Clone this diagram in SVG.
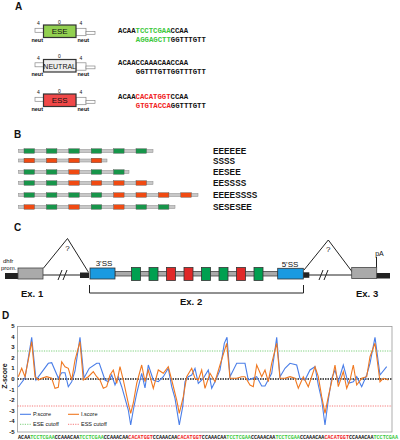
<svg xmlns="http://www.w3.org/2000/svg" width="400" height="440" viewBox="0 0 400 440">
<style>
text{font-family:"Liberation Sans",Arial,sans-serif;fill:#111}
.lbl{font-size:10px;font-weight:bold}
.seq{font-family:"Liberation Mono","Courier New",monospace;font-weight:bold;font-size:7.3px}
.g{fill:#3cc83c}.r{fill:#f02020}
.sm{font-size:5px}
.neut{font-size:5.5px;font-weight:bold}
.stub{fill:#fff;stroke:#888;stroke-width:0.7}
.bb{fill:#c8c8c8;stroke:#888;stroke-width:0.5}
.bg{fill:#17954a;stroke:#555;stroke-width:0.4}
.br{fill:#f04a12;stroke:#555;stroke-width:0.4}
.dot{fill:#555}
.rowl{font-size:8.3px;font-weight:bold}
.cg{fill:#00a050;stroke:#333;stroke-width:0.8}
.cr{fill:#e02828;stroke:#333;stroke-width:0.8}
.ex{fill:#aaa;stroke:#444;stroke-width:0.8}
.blue{fill:#1a9ae0;stroke:#333;stroke-width:0.8}
.ln{stroke:#222;stroke-width:1;fill:none}
.exl{font-size:9.5px;font-weight:bold}
.ss{font-size:8px}
.tick{font-size:6px;font-weight:bold;text-anchor:end}
.leg{font-size:5.5px}
.ds{font-family:"Liberation Mono","Courier New",monospace;font-weight:bold;font-size:5.1px}
</style>

<!-- Panel A -->
<text class="lbl" x="15" y="9.5">A</text>
<g id="a-ese">
<rect class="stub" x="35" y="28.3" width="8.5" height="4"/>
<rect class="stub" x="76" y="28.3" width="10" height="7.4"/>
<rect class="stub" x="86" y="31.5" width="9" height="2.8"/>
<rect x="43.5" y="25" width="32.5" height="12.5" fill="#92d050" stroke="#333" stroke-width="1.2"/>
<text x="59.7" y="34.3" font-size="8" text-anchor="middle">ESE</text>
<text class="sm" x="38.5" y="25" text-anchor="middle">4</text>
<text class="sm" x="59.5" y="23.5" text-anchor="middle">0</text>
<text class="sm" x="81" y="25" text-anchor="middle">4</text>
<text class="neut" x="43" y="41.5" text-anchor="end">neut</text>
<text class="neut" x="77.5" y="41.5">neut</text>
</g>
<g id="a-neutral">
<rect class="stub" x="35" y="62.8" width="8.5" height="4"/>
<rect class="stub" x="76" y="62.8" width="10" height="7.4"/>
<rect class="stub" x="86" y="66" width="9" height="2.8"/>
<rect x="43.5" y="59.5" width="32.5" height="12.5" fill="#eeeeee" stroke="#333" stroke-width="1.2"/>
<text x="59.7" y="68.5" font-size="7" text-anchor="middle" fill="#444">NEUTRAL</text>
<text class="sm" x="38.5" y="59.5" text-anchor="middle">4</text>
<text class="sm" x="59.5" y="58" text-anchor="middle">0</text>
<text class="sm" x="81" y="59.5" text-anchor="middle">4</text>
<text class="neut" x="43" y="76" text-anchor="end">neut</text>
<text class="neut" x="77.5" y="76">neut</text>
</g>
<g id="a-ess">
<rect class="stub" x="35" y="97.3" width="8.5" height="4"/>
<rect class="stub" x="76" y="97.3" width="10" height="7.4"/>
<rect class="stub" x="86" y="100.5" width="9" height="2.8"/>
<rect x="43.5" y="94" width="32.5" height="12.5" fill="#f04848" stroke="#333" stroke-width="1.2"/>
<text x="59.7" y="103.3" font-size="8" text-anchor="middle">ESS</text>
<text class="sm" x="38.5" y="94" text-anchor="middle">4</text>
<text class="sm" x="59.5" y="92.5" text-anchor="middle">0</text>
<text class="sm" x="81" y="94" text-anchor="middle">4</text>
<text class="neut" x="43" y="110.5" text-anchor="end">neut</text>
<text class="neut" x="77.5" y="110.5">neut</text>
</g>
<g id="a-seqs">
<text class="seq" x="118" y="32.5">ACAA<tspan class="g">TCCTCGAA</tspan>CCAA</text>
<text class="seq" x="135.8" y="41.5"><tspan class="g">AGGAGCTT</tspan>GGTTTGTT</text>
<text class="seq" x="118" y="65.2">ACAACCAAACAACCAA</text>
<text class="seq" x="135.8" y="73.5">GGTTTGTTGGTTTGTT</text>
<text class="seq" x="118" y="99.2">ACAA<tspan class="r">CACATGGT</tspan>CCAA</text>
<text class="seq" x="135.8" y="107.5"><tspan class="r">GTGTACCA</tspan>GGTTTGTT</text>
</g>

<!-- Panel B -->
<text class="lbl" x="14" y="138">B</text>
<g id="b-row1">
<rect class="bb" x="18.5" y="149.5" width="134.5" height="3"/>
<rect class="bg" x="24" y="148.7" width="10.5" height="4.6"/><rect class="bg" x="46.4" y="148.7" width="10.5" height="4.6"/><rect class="bg" x="68.8" y="148.7" width="10.5" height="4.6"/><rect class="bg" x="91.2" y="148.7" width="10.5" height="4.6"/><rect class="bg" x="113.6" y="148.7" width="10.5" height="4.6"/><rect class="bg" x="136" y="148.7" width="10.5" height="4.6"/>
<text class="rowl" x="213" y="154">EEEEEE</text>
</g>
<g id="b-row2">
<rect class="bb" x="18.5" y="159" width="88.5" height="3"/>
<rect class="br" x="24" y="158.2" width="10.5" height="4.6"/><rect class="br" x="46.4" y="158.2" width="10.5" height="4.6"/><rect class="br" x="68.8" y="158.2" width="10.5" height="4.6"/><rect class="br" x="91.2" y="158.2" width="10.5" height="4.6"/>
<text class="rowl" x="213" y="163.5">SSSS</text>
</g>
<g id="b-row3">
<rect class="bb" x="18.5" y="170.5" width="110.5" height="3"/>
<rect class="bg" x="24" y="169.7" width="10.5" height="4.6"/><rect class="bg" x="46.4" y="169.7" width="10.5" height="4.6"/><rect class="br" x="68.8" y="169.7" width="10.5" height="4.6"/><rect class="bg" x="91.2" y="169.7" width="10.5" height="4.6"/><rect class="bg" x="113.6" y="169.7" width="10.5" height="4.6"/>
<text class="rowl" x="213" y="175">EESEE</text>
</g>
<g id="b-row4">
<rect class="bb" x="18.5" y="181.5" width="134.5" height="3"/>
<rect class="bg" x="24" y="180.7" width="10.5" height="4.6"/><rect class="bg" x="46.4" y="180.7" width="10.5" height="4.6"/><rect class="br" x="68.8" y="180.7" width="10.5" height="4.6"/><rect class="br" x="91.2" y="180.7" width="10.5" height="4.6"/><rect class="br" x="113.6" y="180.7" width="10.5" height="4.6"/><rect class="br" x="136" y="180.7" width="10.5" height="4.6"/>
<text class="rowl" x="213" y="186">EESSSS</text>
</g>
<g id="b-row5">
<rect class="bb" x="18.5" y="193.5" width="179.5" height="3"/>
<rect class="bg" x="24" y="192.7" width="10.5" height="4.6"/><rect class="bg" x="46.4" y="192.7" width="10.5" height="4.6"/><rect class="bg" x="68.8" y="192.7" width="10.5" height="4.6"/><rect class="bg" x="91.2" y="192.7" width="10.5" height="4.6"/><rect class="br" x="113.6" y="192.7" width="10.5" height="4.6"/><rect class="br" x="136" y="192.7" width="10.5" height="4.6"/><rect class="br" x="158.4" y="192.7" width="10.5" height="4.6"/><rect class="br" x="180.8" y="192.7" width="10.5" height="4.6"/>
<text class="rowl" x="213" y="198">EEEESSSS</text>
</g>
<g id="b-row6">
<rect class="bb" x="18.5" y="205.5" width="156.5" height="3"/>
<rect class="br" x="24" y="204.7" width="10.5" height="4.6"/><rect class="bg" x="46.4" y="204.7" width="10.5" height="4.6"/><rect class="br" x="68.8" y="204.7" width="10.5" height="4.6"/><rect class="bg" x="91.2" y="204.7" width="10.5" height="4.6"/><rect class="br" x="113.6" y="204.7" width="10.5" height="4.6"/><rect class="bg" x="136" y="204.7" width="10.5" height="4.6"/><rect class="bg" x="158.4" y="204.7" width="10.5" height="4.6"/>
<text class="rowl" x="213" y="210">SESESEE</text>
</g>

<!-- Panel C -->
<text class="lbl" x="14" y="231">C</text>
<g id="c-connectors">
<path class="ln" d="M43 275H88"/>
<path class="ln" d="M58 280L62 270M63 280L67 270" stroke-width="0.9"/>
<path class="ln" d="M43.3 268.3L67.5 238.5L88.5 272.3"/>
<path class="ln" d="M309 275H352"/>
<path class="ln" d="M319 280L323 270M324 280L328 270" stroke-width="0.9"/>
<path class="ln" d="M304 270L328.3 240L352.3 272"/>
<path class="ln" d="M376.5 257V267.5"/>
<path class="ln" d="M89.5 285V293H303.5V285"/>
</g>
<g id="c-prom">
<rect x="5" y="273" width="13" height="6" fill="#222"/>
<text x="3" y="262.5" font-size="6" fill="#333">dhfr</text>
<text x="1" y="269.5" font-size="6" fill="#333">prom.</text>
</g>
<g id="c-ex1">
<rect class="ex" x="18" y="268" width="25" height="11"/>
<text class="exl" x="21" y="297">Ex. 1</text>
<text x="67.5" y="251" font-size="8" text-anchor="middle">?</text>
</g>
<g id="c-ex2">
<rect x="80" y="272.5" width="9" height="5.5" fill="#222"/>
<rect class="ex" x="115" y="271.5" width="163" height="4.5" fill="#b0b0b0"/>
<rect class="blue" x="90" y="268" width="25" height="11"/>
<rect class="blue" x="277.7" y="268.3" width="25.6" height="10.7"/>
<rect x="303.3" y="272.3" width="6" height="5.5" fill="#222"/>
<rect class="cg" x="131.5" y="267.5" width="9" height="13"/>
<rect class="cg" x="149" y="267.5" width="9" height="13"/>
<rect class="cr" x="166.5" y="267.5" width="9" height="13"/>
<rect class="cr" x="184" y="267.5" width="9" height="13"/>
<rect class="cg" x="201.5" y="267.5" width="9" height="13"/>
<rect class="cg" x="219" y="267.5" width="9" height="13"/>
<rect class="cr" x="236.5" y="267.5" width="9" height="13"/>
<rect class="cg" x="254" y="267.5" width="9" height="13"/>
<text class="ss" x="104" y="266" text-anchor="middle">3'SS</text>
<text class="ss" x="290" y="267" text-anchor="middle">5'SS</text>
<text class="exl" x="180" y="305">Ex. 2</text>
</g>
<g id="c-ex3">
<rect class="ex" x="351.7" y="267.5" width="25" height="11"/>
<rect x="376.7" y="273" width="13.3" height="5.5" fill="#222"/>
<text x="379.5" y="256" font-size="7" text-anchor="middle" fill="#333">pA</text>
<text x="328.3" y="252" font-size="8" text-anchor="middle">?</text>
<text class="exl" x="356" y="297">Ex. 3</text>
</g>

<!-- Panel D -->
<text class="lbl" x="2" y="318.5">D</text>
<g id="d-chart">
<rect x="17.5" y="326.5" width="374.5" height="105.5" fill="none" stroke="#999" stroke-width="0.8"/>
<text class="tick" x="14.5" y="328">5</text>
<text class="tick" x="14.5" y="338.6">4</text>
<text class="tick" x="14.5" y="349.2">3</text>
<text class="tick" x="14.5" y="359.8">2</text>
<text class="tick" x="14.5" y="370.4">1</text>
<text class="tick" x="14.5" y="381">0</text>
<text class="tick" x="14.5" y="391.6">-1</text>
<text class="tick" x="14.5" y="402.2">-2</text>
<text class="tick" x="14.5" y="412.8">-3</text>
<text class="tick" x="14.5" y="423.4">-4</text>
<text class="tick" x="14.5" y="434">-5</text>
<text x="7" y="376" font-size="7" font-weight="bold" text-anchor="middle" transform="rotate(-90 7 376)">Z-score</text>
<line x1="17.5" y1="351" x2="392" y2="351" stroke="#44bb44" stroke-width="0.7" stroke-dasharray="1.2,1.2"/>
<line x1="17.5" y1="406" x2="392" y2="406" stroke="#f04040" stroke-width="0.7" stroke-dasharray="1.2,1.2"/>
<line x1="17.5" y1="379" x2="392" y2="379" stroke="#555" stroke-width="2" stroke-dasharray="1.5,1"/>
<polyline fill="none" stroke="#4a7ee8" stroke-width="1.1" points="18.3,387 25,378 31.7,337.3 36,380 48.3,363.3 51.7,362.7 58.3,378 61.7,372.7 65,372.7 68.3,386.7 71.7,381.7 75,371 80,337.3 84,378 89.3,368.3 96.7,363.3 99.3,363.3 105,380 108.3,381.7 111.7,375 115,385 118.3,376.7 121.7,386.7 128.3,410 130.7,425 133.3,410 136.7,393.3 141.7,373.3 145,388 148.3,365 153.3,380 158.3,381.7 163.3,376.7 168.3,368.3 171.7,386.7 175,398.3 179.3,425 182.7,406.7 185,381.7 188.3,376.7 191.7,375 195,368.3 198.3,383.3 203.3,378.3 208.3,370 211.7,388.3 215,381.7 220,370 224.3,343.3 227,337.3 230,376.7 236.7,363.3 245,363.3 248.3,380 256.7,376.7 261.7,386 265,386 271.7,373.3 276.7,337.3 280,376.7 285,368.3 290,363.3 296.7,365 300,378.3 305,380 310,370 315,366.7 318.3,385 321.7,400 325,425 328.3,400 331.7,378.3 335,370 338.3,381.7 343.3,365 348.3,383.3 353.3,381.7 356.7,376.7 361.7,386.7 366.7,375 370,363.3 375,337.3 380,375 386.7,366.7"/>
<polyline fill="none" stroke="#f07820" stroke-width="1.1" points="18.3,376.7 21.7,368.3 25,376.7 28.3,360 31.7,341.7 35,376.7 38.3,380 41.7,378.3 46.7,376.7 51.7,378.3 55,388.3 58.3,387.3 61.7,361.7 65,366.7 68.3,368.3 71.7,380 75,360 80,341.7 83.3,380 88.3,376.7 93.3,371.7 96.7,376.7 100,380 103.3,388.3 106.7,386.7 110,375 113.3,370 116.7,383.3 120,366.7 123.3,380 128.3,403.3 130.7,413.3 133.3,403 136.7,383.3 141.7,365 145,381.7 148.3,370 153.3,388.3 158.3,370 163.3,373.3 168.3,366.7 171.7,380 176.7,400 179.3,413.3 183.3,396.7 186.7,376.7 191.7,368.3 195,378.3 198.3,380 201.7,370 205,388.3 210,373.3 215,381.7 220,365 226.7,343.3 230,378.3 236.7,378.3 241.7,376.7 245,376.7 250,385 253.3,386.7 256.7,365 261.7,376.7 265,370 268.3,381.7 271.7,363.3 276.7,343.3 280,378.3 285,378.3 290,376.7 295,378.3 298.3,388.3 303.3,376.7 308.3,386.7 315,366.7 318.3,376.7 321.7,396.7 325,413.3 328.3,396.7 331.7,381.7 335,365 338.3,386.7 343.3,371.7 346.7,388.3 350,380 353.3,365 356.7,385 361.7,378.3 366.7,376.7 370,356.7 375,343.3 380,381.7 383.3,378.3 388.3,380"/>
<line x1="20" y1="414.3" x2="31" y2="414.3" stroke="#4a7ee8" stroke-width="1.1"/>
<text class="leg" x="33" y="416.3">P.score</text>
<line x1="68" y1="414.3" x2="79" y2="414.3" stroke="#f07820" stroke-width="1.1"/>
<text class="leg" x="81" y="416.3">I.score</text>
<line x1="20" y1="424.3" x2="31" y2="424.3" stroke="#44bb44" stroke-width="0.7" stroke-dasharray="1.2,1.2"/>
<text class="leg" x="33" y="426.3">ESE cutoff</text>
<line x1="68" y1="424.3" x2="79" y2="424.3" stroke="#f04040" stroke-width="0.7" stroke-dasharray="1.2,1.2"/>
<text class="leg" x="81" y="426.3">ESS cutoff</text>
</g>
<text class="ds" x="18" y="439.3" textLength="380" lengthAdjust="spacingAndGlyphs">ACAA<tspan class="g">TCCTCGAA</tspan>CCAAACAA<tspan class="g">TCCTCGAA</tspan>CCAAACAA<tspan class="r">CACATGGT</tspan>CCAAACAA<tspan class="r">CACATGGT</tspan>CCAAACAA<tspan class="g">TCCTCGAA</tspan>CCAAACAA<tspan class="g">TCCTCGAA</tspan>CCAAACAA<tspan class="r">CACATGGT</tspan>CCAAACAA<tspan class="g">TCCTCGAA</tspan></text>
</svg>
